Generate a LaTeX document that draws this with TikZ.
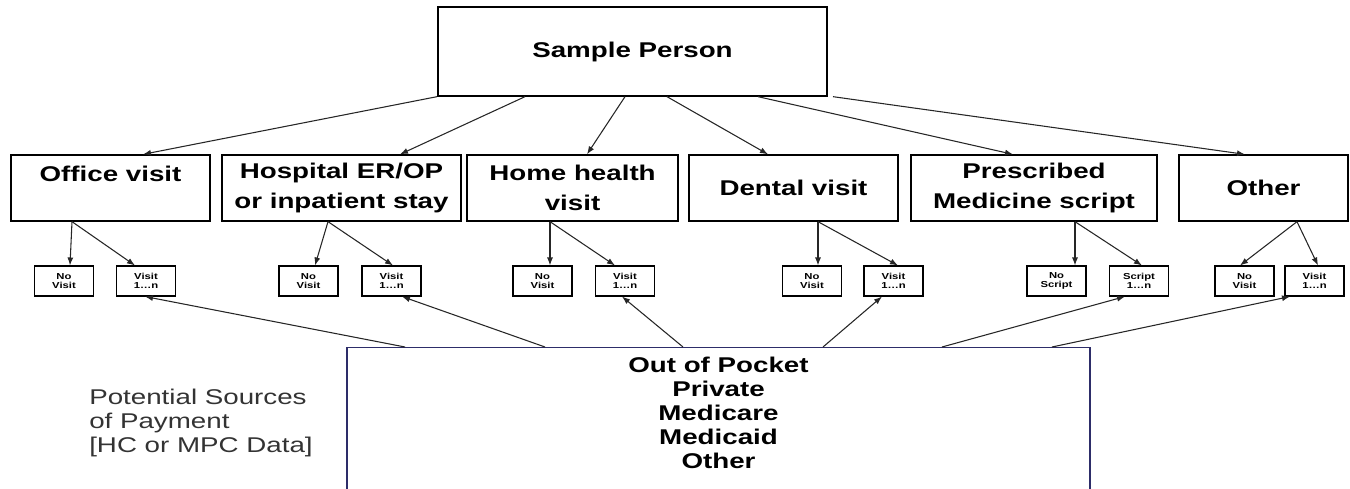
\documentclass[tikz,border=0pt]{standalone}
\usepackage{fontspec}
\setmainfont{Liberation Sans}[FakeStretch=1.3]
\usetikzlibrary{arrows.meta}
\definecolor{paynavy}{RGB}{45,45,105}
\tikzset{
    every node/.style={inner sep=0pt},
    topbox/.style={draw, line width=1pt, font=\bfseries\fontsize{16}{18}\selectfont,
        align=center, minimum height=66.75pt},
    catbox/.style={draw, line width=1pt, font=\bfseries\fontsize{16}{22}\selectfont,
        align=center, minimum height=49.5pt},
    countbox/.style={draw, line width=0.8pt, font=\bfseries\fontsize{6.5}{6.5}\selectfont,
        align=center, minimum width=44.25pt, minimum height=22.5pt},
    paybox/.style={draw=paynavy, line width=1pt},
    paytext/.style={font=\bfseries\fontsize{16}{18}\selectfont, align=center},
    note/.style={font=\fontsize{16}{18}\selectfont, align=left, text=black!80},
    arr/.style={-{Latex[length=6pt, width=4.5pt]}, line width=0.8pt, draw=black!85},
}

\begin{document}
\begin{tikzpicture}[x=0.75pt, y=-0.75pt]
    \useasboundingbox (0, 0) rectangle (1350, 489);
    \clip (0, 0) rectangle (1350, 489);
    \node[topbox, minimum width=291.75pt] (sp) at (632.5, 51.5)
        {Sample Person}; % Root
    % Event types
    \node[catbox, minimum width=149.25pt] (office) at (110.5, 188)
        {Office visit\\\mbox{}};
    \node[catbox, minimum width=179.25pt] (hosp) at (341.5, 188)
        {Hospital ER/OP\\or inpatient stay};
    \node[catbox, minimum width=158.25pt] (home) at (572.5, 188)
        {Home health\\visit};
    \node[catbox, minimum width=156.75pt] (dental) at (793.5, 188)
        {Dental visit};
    \node[catbox, minimum width=184.5pt] (presc) at (1034, 188)
        {Prescribed\\Medicine script};
    \node[catbox, minimum width=126.75pt] (other) at (1263.5, 188)
        {Other};
    % Counts below each event type
    \foreach \n/\a/\b/\w in {office/64/146/Visit, hosp/308.5/391.5/Visit,
        home/542.5/625/Visit, dental/812/893.5/Visit, presc/1056.5/1139/Script,
        other/1244.5/1314.5/Visit}{
        \node[countbox] (\n-no) at (\a, 281) {No\\\w};
        \node[countbox] (\n-yes) at (\b, 281) {\w\\1\ldots n};
    }
    % Payment sources
    \node[paybox, minimum width=557.25pt, minimum height=130pt, anchor=north]
        (pay) at (718.5, 347) {};
    \node[paytext] (payers) at (718.5, 413)
        {Out of Pocket\\Private\\Medicare\\Medicaid\\Other};
    \node[note, anchor=west] (source) at (89, 423)
        {Potential Sources\\of Payment\\{[}HC or MPC Data{]}};
    % Root to event types
    \foreach \n/\a/\b in {office/437/143, hosp/525/400, home/625/587,
        dental/667/768, presc/758/1013, other/833/1245}
        \draw[arr] (sp.south -| \a,0) -- (\n.north -| \b,0);
    % Event types to counts
    \foreach \n/\s/\a/\b in {office/72/70/135, hosp/328/315/393, home/550/550/615,
        dental/818/818/898, presc/1075/1075/1142, other/1297/1240/1318}{
        \draw[arr] (\n.south -| \s,0) -- (\n-no.north -| \a,0);
        \draw[arr] (\n.south -| \s,0) -- (\n-yes.north -| \b,0);
    }
    % Payments to counts
    \foreach \n/\a/\b in {office/405/145, hosp/545/402, home/683/622,
        dental/823/882, presc/942/1125, other/1052/1290}
        \draw[arr] (pay.north -| \a,0) -- (\n-yes.south -| \b,0);
\end{tikzpicture}
\end{document}
